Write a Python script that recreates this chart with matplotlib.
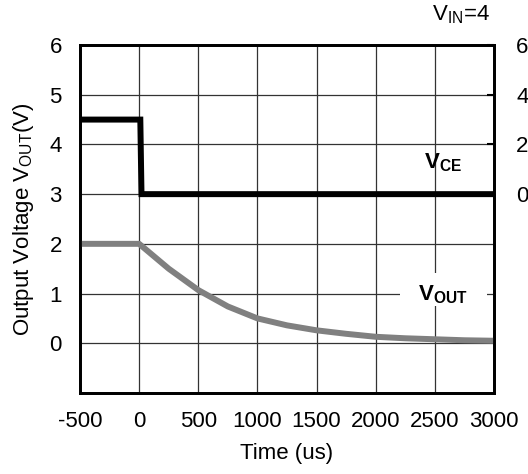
import matplotlib
matplotlib.use("Agg")
import matplotlib.pyplot as plt
from matplotlib.patches import Rectangle

plt.rcParams['font.family'] = ['Liberation Sans', 'DejaVu Sans']
plt.rcParams['mathtext.fontset'] = 'custom'
plt.rcParams['mathtext.rm'] = 'Liberation Sans'
plt.rcParams['mathtext.it'] = 'Liberation Sans:italic'
plt.rcParams['mathtext.bf'] = 'Liberation Sans:bold'
plt.rcParams['axes.unicode_minus'] = False

# V_CE step (left axis, V)
vce_time = [-500, 10, 20, 3000]
vce_volt = [4.5, 4.5, 3.0, 3.0]

# V_OUT decay
vout_time = [-500, 0, 250, 500, 750, 1000, 1250, 1500, 1750, 2000, 2250, 2500, 2750, 3000]
vout_volt = [2.0, 2.0, 1.5, 1.07, 0.74, 0.5, 0.36, 0.26, 0.19, 0.13, 0.1, 0.08, 0.06, 0.05]

x_ticks = [-500, 0, 500, 1000, 1500, 2000, 2500, 3000]
y_ticks = [0, 1, 2, 3, 4, 5, 6]
right_ticks = [0, 2, 4, 6]

fs = 16

fig = plt.figure(figsize=(5.28, 4.74), dpi=100)
ax = fig.add_axes([0.1515, 0.171, 0.784, 0.734])

ax.plot(vout_time, vout_volt, color='#808080', lw=4.3, solid_capstyle='butt', zorder=3)
ax.plot(vce_time, vce_volt, color='black', lw=4.3, solid_joinstyle='miter', zorder=4)

ax.set_xlim(-500, 3000)
ax.set_ylim(-1, 6)
ax.set_xticks(x_ticks)
ax.set_yticks(y_ticks)
ax.grid(True, color='#333333', lw=0.9)
ax.tick_params(length=0, labelsize=fs, pad=13)
for sp in ax.spines.values():
    sp.set_linewidth(2)

ax.set_xlabel('Time (us)', fontsize=fs, labelpad=8)
ax.set_ylabel(r'Output Voltage V$_{\mathrm{OUT}}$(V)', fontsize=fs, labelpad=10)

ax2 = ax.twinx()
ax2.set_ylim(-8, 6)
ax2.set_yticks(right_ticks)
ax2.tick_params(direction='in', length=5, width=1.5, labelsize=fs, pad=16)
for sp in ax2.spines.values():
    sp.set_linewidth(2)

# white patch behind the V_OUT label breaks the grid
ax.add_patch(Rectangle((2205, 0.74), 736, 0.68, facecolor='white', edgecolor='none', zorder=2.5))
ax.text(2570, 3.63, r'$\mathbf{V_{CE}}$', fontsize=fs, ha='center', va='center', zorder=5)
ax.text(2570, 0.97, r'$\mathbf{V_{OUT}}$', fontsize=fs, ha='center', va='center', zorder=5)
fig.text(0.873, 0.968, r'V$_{\mathrm{IN}}$=4', fontsize=fs, ha='center', va='center')

fig.savefig('out.png', dpi=100)
